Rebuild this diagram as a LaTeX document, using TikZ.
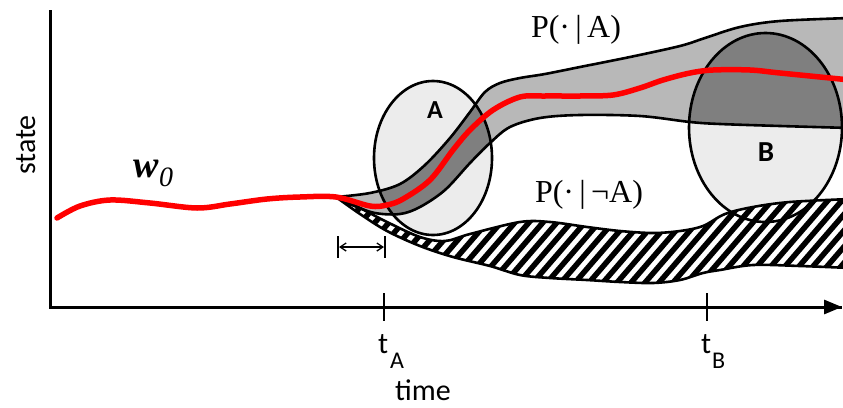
\documentclass[tikz,border=0pt]{standalone}
\usepackage{fontspec}
\setmainfont{Carlito}
\newfontfamily\serif{Liberation Serif}
\usetikzlibrary{arrows.meta}
\definecolor{bandgray}{HTML}{B8B8B8}
\definecolor{ellgray}{HTML}{ECECEC}
\definecolor{darkgray2}{HTML}{7F7F7F}
\begin{document}
\begin{tikzpicture}[x=1pt,y=-1pt,
  outline/.style={draw=black,line width=2.6pt,line join=round},
  axisline/.style={line width=3pt},
  tick/.style={line width=2.5pt},
  redline/.style={draw=red,line width=5.5pt,line cap=round},
  sanslabel/.style={font=\fontsize{30}{34}\selectfont,inner sep=0pt},
  sublabel/.style={font=\fontsize{24}{26}\selectfont,inner sep=0pt},
  plabel/.style={font=\serif\fontsize{32}{36}\selectfont,inner sep=0pt},
  ellabel/.style={font=\bfseries,inner sep=0pt}
]
\useasboundingbox (0,0) rectangle (843,407);

\def\bandpath{plot[smooth,tension=0.55] coordinates {(336,197) (370,193) (400,184) (425,165) (450,138) (470,112) (485,92) (500,83) (520,78) (545,74) (580,67) (630,57) (680,46) (705,38) (740,27) (780,21) (850,18)}
  -- plot[smooth,tension=0.55] coordinates {(850,128) (780,126) (720,124) (690,122) (640,116) (580,115) (540,118) (510,127) (490,143) (470,163) (445,190) (420,207) (400,214) (375,213) (352,205) (336,197)} -- cycle}
\def\hatchpath{plot[smooth,tension=0.55] coordinates {(336,197) (360,208) (387,222) (420,237) (445,241) (470,234) (520,222) (550,222) (587,227) (620,231) (653,233) (680,231) (703,226) (725,214) (753,207) (790,202) (850,199)}
  -- plot[smooth,tension=0.55] coordinates {(850,268) (800,266) (753,265) (720,270) (703,273) (680,280) (653,283) (620,282) (587,280) (550,278) (520,275) (490,266) (453,257) (420,246) (387,231) (360,214) (336,197)} -- cycle}
\def\ellA{(433,158) ellipse [x radius=59,y radius=77]}
\def\ellB{(765.5,127.5) ellipse [x radius=76.5,y radius=94.5]}

% fills
\fill[bandgray] \bandpath;
\fill[ellgray] \ellA;
\fill[ellgray] \ellB;
\begin{scope}
  \clip \bandpath;
  \fill[darkgray2] \ellA;
  \fill[darkgray2] \ellB;
\end{scope}
\fill[white] \hatchpath;
\begin{scope}
  \clip \hatchpath;
  \foreach \i in {-10,...,45} {
    \draw[line width=5.5pt] ({280+\i*14},300) -- ({280+\i*14+95},190);
  }
\end{scope}

% outlines
\draw[outline] \bandpath;
\draw[outline] \hatchpath;
\draw[outline] \ellA;
\draw[outline] \ellB;

% red trajectory
\draw[redline] plot[smooth,tension=0.55] coordinates {(57,218) (80,206) (110,200) (150,203) (197,208) (230,204) (267,199) (300,197) (336,197) (370,206) (387,205) (403,199) (430,180) (453,150) (470,130) (493,110) (520,97) (545,96) (580,96) (613,95) (640,88) (663,80) (690,73) (713,70) (750,70) (780,73) (850,80)};

% axes
\coordinate (origin) at (50,307);
\coordinate (ytop) at (50,10);
\coordinate (xend) at (842,307);
\draw[axisline] (ytop) -- (origin) -- (xend);
\draw[axisline,-{Triangle[length=18pt,width=14pt]}] (820,307) -- (xend);
\coordinate (tA1) at (384,293); \coordinate (tA2) at (384,321);
\coordinate (tB1) at (707,293); \coordinate (tB2) at (707,321);
\draw[tick] (tA1) -- (tA2);
\draw[tick] (tB1) -- (tB2);

% interval marker
\coordinate (b1t) at (338,236); \coordinate (b1b) at (338,258);
\coordinate (b2t) at (385,236); \coordinate (b2b) at (385,258);
\coordinate (m1) at (339,247); \coordinate (m2) at (384,247);
\draw[line width=2.2pt] (b1t) -- (b1b);
\draw[line width=2.2pt] (b2t) -- (b2b);
\draw[line width=1.3pt,{Straight Barb[length=6pt,width=8pt]}-{Straight Barb[length=6pt,width=8pt]}] (m1) -- (m2);

% labels
\node[sanslabel,rotate=90,anchor=base] (state) at (35,145) {state};
\node[sanslabel,anchor=base west] (time) at (395,400) {time};
\node[sanslabel,anchor=base west] (tA) at (378,353) {t};
\node[sublabel,anchor=base west] (tAsub) at (390,368) {A};
\node[sanslabel,anchor=base west] (tB) at (701,353) {t};
\node[sublabel,anchor=base west] (tBsub) at (712,368) {B};
\node[ellabel,font=\bfseries\fontsize{26}{30}\selectfont] (Alab) at (435,110) {A};
\node[ellabel,font=\bfseries\fontsize{29}{32}\selectfont] (Blab) at (766,152) {B};
\node[plabel] (PA) at (576,30) {P(·\,|\,A)};
\node[plabel] (PnA) at (589,195) {P(·\,|\,¬A)};
\node[inner sep=0pt,anchor=base,font=\serif\bfseries\itshape\fontsize{38}{40}\selectfont] (w) at (146,177) {w};
\node[inner sep=0pt,anchor=base west,font=\serif\itshape\fontsize{28}{30}\selectfont] (wsub) at (159,186) {0};
\end{tikzpicture}
\end{document}
